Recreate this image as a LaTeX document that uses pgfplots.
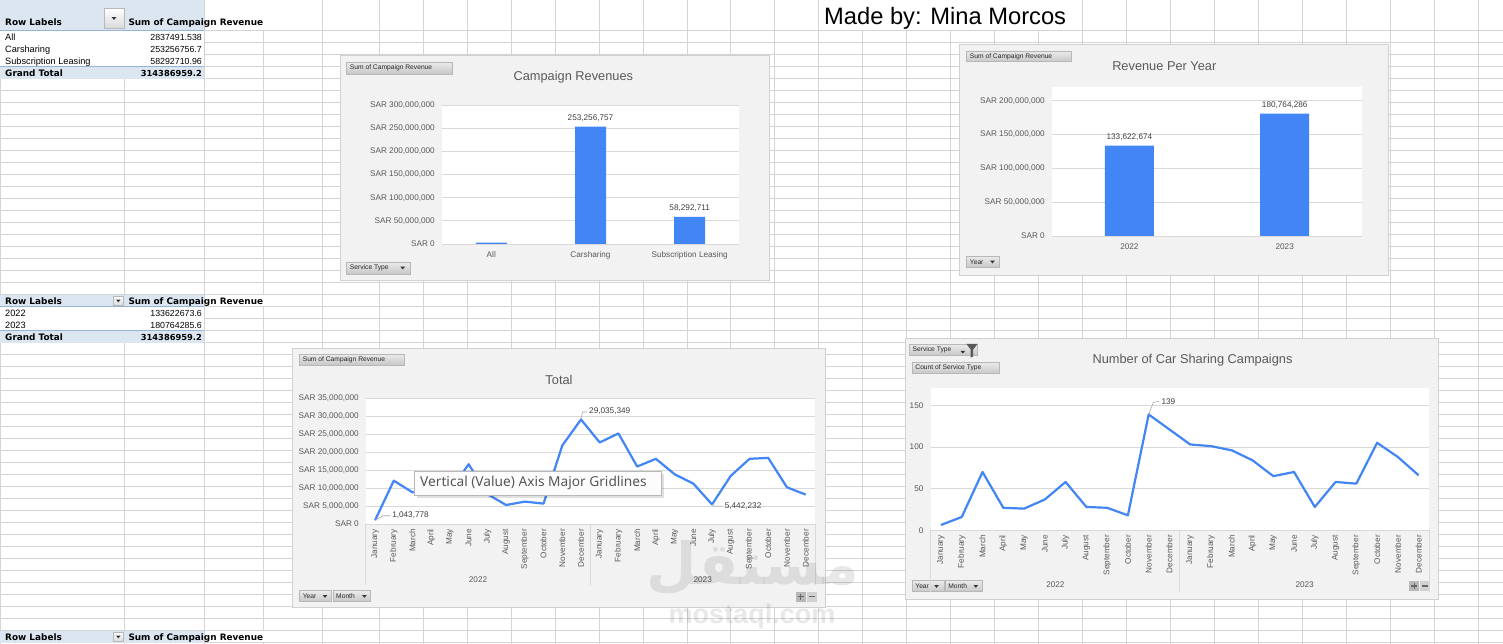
\documentclass[border=0pt]{standalone}
\usepackage{fontspec}
\setmainfont{Liberation Sans}
\newfontfamily\dvs{DejaVu Sans}
\newfontfamily\noto{Noto Sans}
\newfontfamily\arabicfont[Script=Arabic]{DejaVu Sans}
\usepackage{pgfplots}
\pgfplotsset{compat=1.18}
\TeXXeTstate=1
\newcommand\fs[1]{\fontsize{#1}{#1}\selectfont}
\definecolor{gridc}{HTML}{D4D4D4}
\definecolor{pivblue}{HTML}{DCE6F1}
\definecolor{pivline}{HTML}{95B3D7}
\definecolor{chartbg}{HTML}{F2F2F2}
\definecolor{chartborder}{HTML}{D0D0D0}
\definecolor{axgray}{HTML}{D9D9D9}
\definecolor{txtgray}{HTML}{595959}
\definecolor{lblgray}{HTML}{404040}
\definecolor{barblue}{HTML}{4285F4}
\definecolor{btnborder}{HTML}{B8B8B8}
\pgfplotsset{
  xlbase/.style={
    scale only axis, clip=false,
    axis line style={draw=none},
    major tick length=0pt,
    tick style={draw=none},
    ymajorgrids,
    grid style={axgray, line width=0.9pt},
    axis background/.style={fill=white},
    tick label style={font=\fs{8.2}, text=txtgray, inner sep=0pt},
    yticklabel style={anchor=east},
    yticklabel shift=6.7pt,
    ymin=0,
  },
  monthaxis/.style={
    xmin=-0.5, xmax=23.5, xtick={0,...,23},
    xticklabels={January,February,March,April,May,June,July,August,September,October,November,December,January,February,March,April,May,June,July,August,September,October,November,December},
    xticklabel style={rotate=90, anchor=east},
  },
  lbl/.style={draw=none, mark=none, nodes near coords, point meta=explicit symbolic,
    every node near coord/.style={font=\fs{8.2}, text=lblgray, inner sep=0pt, #1}},
}
\newcommand\fbtn[5]{%
  \draw[btnborder, top color=white!92!black, bottom color=white!78!black, line width=0.5pt] (#1,-#2) rectangle (#3,-#4);
  \node[anchor=west, font=\fs{6.7}, text=black!85, inner sep=0pt] at ({#1+3},{-(#2+#4)/2}) {#5};}
\newcommand\tri[2]{\fill[black!80] ({#1-2.3},{-#2+1.1}) -- ({#1+2.3},{-#2+1.1}) -- (#1,{-#2-1.6}) -- cycle;}
\begin{document}
\begin{tikzpicture}[x=1pt,y=1pt]
\useasboundingbox (0,0) rectangle (1503,-644);
\fill[white] (0,0) rectangle (1503,-644);
% spreadsheet grid
\foreach \i in {0,...,51}{\pgfmathsetmacro\yy{-30.7-12*\i}\draw[gridc,line width=1pt] (0,\yy) -- (1503,\yy);}
\foreach \xx in {0.5,124.3,204,263.3,322.3}{\draw[gridc,line width=1pt] (\xx,0) -- (\xx,-644);}
\foreach \k in {0,...,25}{\pgfmathsetmacro\xx{379.3+43.96*\k}\draw[gridc,line width=1pt] (\xx,0) -- (\xx,-644);}
% overflow text cells
\fill[white] (204.6,-0.5) rectangle (264.6,-30.2);
\fill[white] (204.6,-295.2) rectangle (264.6,-306.2);
\fill[white] (204.6,-631.2) rectangle (264.6,-642.2);
\fill[white] (819.3,-0.5) rectangle (1082.2,-30.2);
% pivot table 1
\fill[pivblue] (0,0) rectangle (204,-30.7);
\fill[white] (0,-30.7) rectangle (204,-66.7);
\fill[pivblue] (0,-66.7) rectangle (204,-78.7);
\draw[pivline,line width=0.8pt] (0,-30.7) -- (204,-30.7);
\draw[pivline,line width=0.8pt] (0,-66.7) -- (204,-66.7);
\draw[btnborder, top color=white, bottom color=white!85!black, line width=0.6pt] (104,-8.3) rectangle (124,-28.3);
\tri{114}{18.3}
\node[anchor=base west, font=\dvs\bfseries\fs{8.9}, inner sep=0pt] at (5,-26) {Row Labels};
\node[anchor=base west, font=\dvs\bfseries\fs{8.9}, inner sep=0pt] at (128.3,-26) {Sum of Campaign Revenue};
\node[anchor=base west, font=\fs{9.2}, inner sep=0pt] at (5,-40.3) {All};
\node[anchor=base east, font=\fs{8.8}, inner sep=0pt] at (202,-40.3) {2837491.538};
\node[anchor=base west, font=\fs{9.2}, inner sep=0pt] at (5,-52.3) {Carsharing};
\node[anchor=base east, font=\fs{8.8}, inner sep=0pt] at (202,-52.3) {253256756.7};
\node[anchor=base west, font=\fs{9.2}, inner sep=0pt] at (5,-64.3) {Subscription Leasing};
\node[anchor=base east, font=\fs{8.8}, inner sep=0pt] at (202,-64.3) {58292710.96};
\node[anchor=base west, font=\dvs\bfseries\fs{8.9}, inner sep=0pt] at (5,-76.3) {Grand Total};
\node[anchor=base east, font=\dvs\bfseries\fs{8.3}, inner sep=0pt] at (202,-76.3) {314386959.2};
% pivot table 2
\fill[pivblue] (0,-294.7) rectangle (204,-306.7);
\fill[white] (0,-306.7) rectangle (204,-330.7);
\fill[pivblue] (0,-330.7) rectangle (204,-342.7);
\draw[pivline,line width=0.8pt] (0,-306.7) -- (204,-306.7);
\draw[pivline,line width=0.8pt] (0,-330.7) -- (204,-330.7);
\draw[btnborder, top color=white, bottom color=white!85!black, line width=0.6pt] (113,-296) rectangle (123.5,-305.5);
\tri{118.3}{300.7}
\node[anchor=base west, font=\dvs\bfseries\fs{8.9}, inner sep=0pt] at (5,-304) {Row Labels};
\node[anchor=base west, font=\dvs\bfseries\fs{8.9}, inner sep=0pt] at (128.3,-304) {Sum of Campaign Revenue};
\node[anchor=base west, font=\fs{9.2}, inner sep=0pt] at (5,-316) {2022};
\node[anchor=base east, font=\fs{8.8}, inner sep=0pt] at (202,-316) {133622673.6};
\node[anchor=base west, font=\fs{9.2}, inner sep=0pt] at (5,-328) {2023};
\node[anchor=base east, font=\fs{8.8}, inner sep=0pt] at (202,-328) {180764285.6};
\node[anchor=base west, font=\dvs\bfseries\fs{8.9}, inner sep=0pt] at (5,-340) {Grand Total};
\node[anchor=base east, font=\dvs\bfseries\fs{8.3}, inner sep=0pt] at (202,-340) {314386959.2};
% pivot table 3 (header only)
\fill[pivblue] (0,-630.7) rectangle (204,-642.7);
\draw[btnborder, top color=white, bottom color=white!85!black, line width=0.6pt] (113,-632) rectangle (123.5,-641.5);
\tri{118.3}{636.7}
\node[anchor=base west, font=\dvs\bfseries\fs{8.9}, inner sep=0pt] at (5,-640) {Row Labels};
\node[anchor=base west, font=\dvs\bfseries\fs{8.9}, inner sep=0pt] at (128.3,-640) {Sum of Campaign Revenue};
% made by
\node[anchor=base west, font=\fs{23.7}, inner sep=0pt] at (824,-25) {Made by: Mina Morcos};

% ================= Chart 1 =================
\draw[chartborder, fill=chartbg, line width=1pt] (340.7,-56) rectangle (769,-280.5);
\node[font=\fs{12.8}, text=txtgray] at (573.3,-76.7) {Campaign Revenues};
\fbtn{346.7}{62.3}{452.7}{74}{Sum of Campaign Revenue}
\fbtn{346.7}{262.3}{410}{274}{Service Type}
\tri{402.7}{267.8}
\begin{axis}[xlbase, at={(441.7pt,-244pt)}, anchor=south west, width=297.6pt, height=139pt,
  xmin=-0.5, xmax=2.5, ymax=300, xtick={0,1,2},
  xticklabels={All,Carsharing,Subscription Leasing},
  xticklabel style={anchor=base}, xticklabel shift=13.2pt,
  ytick={0,50,100,150,200,250,300},
  yticklabels={{SAR 0},{SAR 50,000,000},{SAR 100,000,000},{SAR 150,000,000},{SAR 200,000,000},{SAR 250,000,000},{SAR 300,000,000}}]
\addplot[ybar, bar width=31pt, bar shift=0pt, fill=barblue, draw=none] coordinates {(0,2.837491538) (1,253.2567567) (2,58.29271096)};
\addplot[lbl={anchor=center, yshift=8.4pt}] coordinates {(1,253.2567567) [253,256,757] (2,58.29271096) [58,292,711]};
\draw[axgray, line width=0.9pt] (rel axis cs:0,0) -- (rel axis cs:1,0);
\end{axis}

% ================= Chart 2 =================
\draw[chartborder, fill=chartbg, line width=1pt] (959.3,-44.3) rectangle (1388.3,-275);
\node[font=\fs{12.8}, text=txtgray] at (1164.3,-66) {Revenue Per Year};
\fbtn{966.7}{51}{1071.7}{61.7}{Sum of Campaign Revenue}
\fbtn{966.7}{256}{999}{267.7}{Year}
\tri{992.5}{261.8}
\begin{axis}[xlbase, at={(1051.7pt,-236pt)}, anchor=south west, width=310.7pt, height=149.3pt,
  xmin=-0.5, xmax=1.5, ymax=220.7, xtick={0,1},
  xticklabels={2022,2023},
  xticklabel style={anchor=base}, xticklabel shift=13pt,
  ytick={0,50,100,150,200},
  yticklabels={{SAR 0},{SAR 50,000,000},{SAR 100,000,000},{SAR 150,000,000},{SAR 200,000,000}}]
\addplot[ybar, bar width=49pt, bar shift=0pt, fill=barblue, draw=none] coordinates {(0,133.6226736) (1,180.7642856)};
\addplot[lbl={anchor=center, yshift=8.3pt}] coordinates {(0,133.6226736) [133,622,674] (1,180.7642856) [180,764,286]};
\draw[axgray, line width=0.9pt] (rel axis cs:0,0) -- (rel axis cs:1,0);
\end{axis}

% ================= Chart 3 =================
\draw[chartborder, fill=chartbg, line width=1pt] (292.5,-348.5) rectangle (825.5,-607.5);
\node[font=\fs{12.8}, text=txtgray] at (559,-380) {Total};
\fbtn{299.6}{354}{404.7}{365}{Sum of Campaign Revenue}
\fbtn{299.6}{590.7}{331.3}{601.7}{Year}
\tri{325}{596.2}
\fbtn{333}{590.7}{370.6}{601.7}{Month}
\tri{364.4}{596.2}
\fill[white!72!black] (795.5,-591.7) rectangle (805.8,-601.7);
\fill[white!82!black] (806.6,-591.7) rectangle (816.9,-601.7);
\draw[white!40!black, line width=1.2pt] (797.6,-596.7) -- (803.7,-596.7) (800.65,-593.7) -- (800.65,-599.7);
\draw[white!40!black, line width=1.2pt] (808.7,-596.7) -- (814.8,-596.7);
\begin{axis}[xlbase, monthaxis, at={(365.7pt,-524pt)}, anchor=south west, width=449.3pt, height=126pt,
  ymax=35, xticklabel shift=5pt,
  ytick={0,5,10,15,20,25,30,35},
  yticklabels={{SAR 0},{SAR 5,000,000},{SAR 10,000,000},{SAR 15,000,000},{SAR 20,000,000},{SAR 25,000,000},{SAR 30,000,000},{SAR 35,000,000}}]
\addplot[barblue, line width=2.2pt, mark=none, line join=round] coordinates {
 (0,1.043778) (1,12.03) (2,8.8) (3,9.5) (4,9.28) (5,16.6) (6,8.3) (7,5.28) (8,6.22) (9,5.66) (10,21.8) (11,29.035349)
 (12,22.65) (13,25.16) (14,15.97) (15,18.1) (16,13.83) (17,11.23) (18,5.442232) (19,13.37) (20,18.1) (21,18.38) (22,10.2) (23,8.17)};
\addplot[lbl={anchor=west, xshift=17pt, yshift=5pt}] coordinates {(0,1.043778) [1,043,778]};
\addplot[lbl={anchor=west, xshift=8pt, yshift=8.5pt}] coordinates {(11,29.035349) [29,035,349]};
\addplot[lbl={anchor=west, xshift=12.6pt, yshift=-1.9pt}] coordinates {(18,5.442232) [5,442,232]};
\draw[gray!70, line width=0.6pt] (axis cs:0,1.043778) -- ++(8pt,4.5pt) -- ++(7pt,0pt);
\draw[gray!70, line width=0.6pt] (axis cs:11,29.035349) -- ++(1.5pt,7.5pt) -- ++(4.5pt,0pt);
\draw[gray!70, line width=0.6pt] (axis cs:18,5.442232) -- ++(2pt,-1.7pt) -- ++(8pt,0pt);
\draw[axgray, line width=0.9pt] (rel axis cs:0,0) -- (rel axis cs:1,0);
\end{axis}
\draw[axgray, line width=0.9pt] (365.7,-524) -- (365.7,-585) (590.35,-524) -- (590.35,-585) (815,-524) -- (815,-585);
\node[font=\fs{8.2}, text=txtgray] at (478,-579.3) {2022};
\node[font=\fs{8.2}, text=txtgray] at (702.7,-579.3) {2023};

% ================= Chart 4 =================
\draw[chartborder, fill=chartbg, line width=1pt] (905.7,-338.3) rectangle (1438.3,-599);
\node[font=\fs{12.8}, text=txtgray] at (1192.5,-360) {Number of Car Sharing Campaigns};
\fbtn{909.4}{344.3}{977.2}{355.7}{Service Type}
\tri{962.8}{352}
\fill[black!65] (966.3,-343.8) -- (977.6,-343.8) -- (973.2,-349.5) -- (973.2,-356.5) -- (970.7,-357.5) -- (970.7,-349.5) -- cycle;
\fbtn{912.2}{362.3}{999}{373.7}{Count of Service Type}
\fbtn{912.2}{580.7}{944.1}{591.7}{Year}
\tri{936.5}{586.2}
\fbtn{945.2}{580.7}{982.7}{591.7}{Month}
\tri{975.8}{586.2}
\fill[white!72!black] (1409.2,-580.7) rectangle (1419.2,-591.2);
\fill[white!82!black] (1420,-580.7) rectangle (1430,-591.2);
\draw[white!40!black, line width=1.2pt] (1411.2,-585.9) -- (1417.2,-585.9) (1414.2,-582.9) -- (1414.2,-588.9);
\draw[white!40!black, line width=1.2pt] (1422,-585.9) -- (1428,-585.9);
\begin{axis}[xlbase, monthaxis, at={(930.6pt,-530.3pt)}, anchor=south west, width=498.4pt, height=142pt,
  ymax=170.4, xticklabel shift=4.7pt,
  ytick={0,50,100,150}, yticklabels={0,50,100,150}, yticklabel shift=7pt]
\addplot[barblue, line width=2.2pt, mark=none, line join=round] coordinates {
 (0,6.4) (1,16) (2,70) (3,27) (4,26) (5,37) (6,58) (7,28) (8,27) (9,18) (10,139) (11,121)
 (12,103) (13,101) (14,96) (15,84) (16,65) (17,70) (18,28) (19,58) (20,56) (21,105) (22,88) (23,66)};
\addplot[lbl={anchor=west, xshift=12.7pt, yshift=13.2pt}] coordinates {(10,139) [139]};
\draw[gray!70, line width=0.6pt] (axis cs:10,139) -- ++(4.8pt,12.3pt) -- ++(5.5pt,0.7pt);
\draw[axgray, line width=0.9pt] (rel axis cs:0,0) -- (rel axis cs:1,0);
\end{axis}
\draw[axgray, line width=0.9pt] (930.6,-530.3) -- (930.6,-591.7) (1179.8,-530.3) -- (1179.8,-591.7) (1429,-530.3) -- (1429,-591.7);
\node[font=\fs{8.2}, text=txtgray] at (1055.4,-585) {2022};
\node[font=\fs{8.2}, text=txtgray] at (1304.6,-585) {2023};

% tooltip
\fill[black, opacity=0.12] (416.8,-473.5) rectangle (664.2,-497.8);
\draw[white!72!black, fill=white!99!black, line width=0.8pt] (414.3,-471) rectangle (661.7,-495);
\node[anchor=west, font=\noto\fs{13.7}, text=white!34!black, inner sep=0pt] at (420,-483) {Vertical (Value) Axis Major Gridlines};

% watermark
\node[font=\arabicfont\bfseries\fs{58}, text=black, opacity=0.09, inner sep=0pt] at (753,-568) {\beginR مستقل\endR};
\node[font=\bfseries\fs{27}, text=black, opacity=0.09, inner sep=0pt] at (752,-617) {mostaql.com};
\end{tikzpicture}
\end{document}
